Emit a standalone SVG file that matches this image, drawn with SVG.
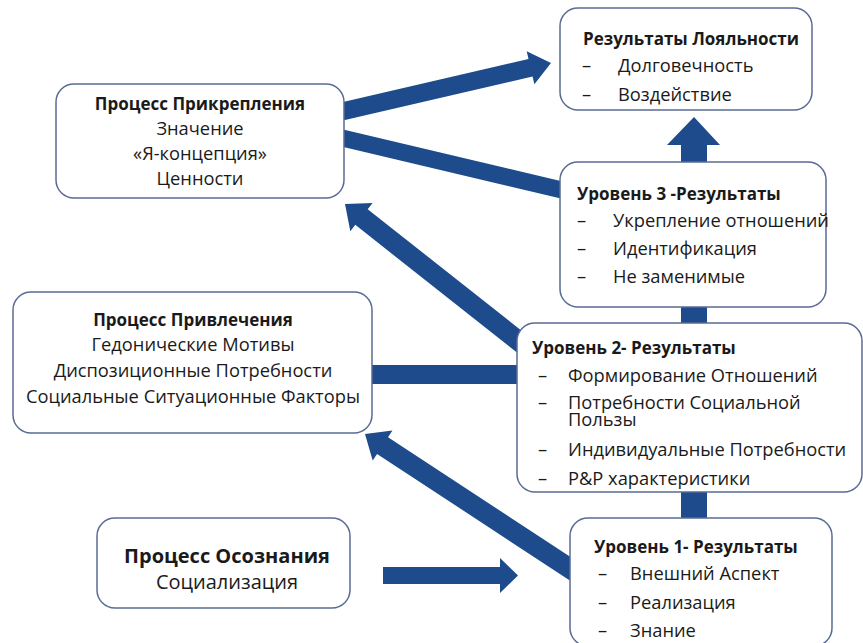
<svg xmlns="http://www.w3.org/2000/svg" width="863" height="643" viewBox="0 0 863 643">
<style>
.box{fill:#fff;stroke:#5a6b94;stroke-width:1.5}
.arr{fill:#1e4b8c}
.ln{stroke:#1e4b8c;fill:none}
text{font-family:"Open Sans","Noto Sans","Liberation Sans",sans-serif;font-size:18.3px;fill:#1a1a1a}
.b{font-weight:bold;font-size:17px}
.c{text-anchor:middle}
.big{font-size:20px}
</style>
<rect width="863" height="643" fill="#fff"/>
<g id="connectors">
<polygon class="arr" transform="translate(551,63) rotate(-13.07)" points="0,0 -21,-17 -21,-9 -218,-9 -218,9 -21,9 -21,17"/>
<line class="ln" x1="338" y1="137" x2="566" y2="191" stroke-width="17"/>
<polygon class="arr" transform="translate(345,204) rotate(218.3)" points="0,0 -21,-18 -21,-10 -240,-10 -240,10 -21,10 -21,18"/>
<polygon class="arr" transform="translate(365,434) rotate(213.3)" points="0,0 -21,-18 -21,-10 -285,-10 -285,10 -21,10 -21,18"/>
<polygon class="arr" points="383,567 500,567 500,558 518,575.5 500,593 500,584 383,584"/>
<rect class="arr" x="370" y="365" width="152" height="19"/>
<rect class="arr" x="681" y="488" width="26" height="34"/>
<rect class="arr" x="681" y="303" width="26" height="24"/>
<polygon class="arr" points="681,166 681,145 667,145 694,117 720,145 707,145 707,166"/>
</g>
<g id="loyalty">
<rect class="box" x="560" y="8" width="252" height="102" rx="18"/>
<text class="b" x="583" y="45">Результаты Лояльности</text>
<text x="582" y="72">–</text><text x="618" y="72">Долговечность</text>
<text x="582" y="101">–</text><text x="618" y="101">Воздействие</text>
</g>
<g id="attachment">
<rect class="box" x="56" y="84" width="288" height="114" rx="18"/>
<text class="b c" x="200" y="110">Процесс Прикрепления</text>
<text class="c" x="200" y="135">Значение</text>
<text class="c" x="200" y="160">«Я-концепция»</text>
<text class="c" x="200" y="185">Ценности</text>
</g>
<g id="level3">
<rect class="box" x="560" y="162" width="266" height="145" rx="18"/>
<text class="b" x="577" y="200">Уровень 3 -Результаты</text>
<text x="577" y="227">–</text><text x="613" y="227">Укрепление отношений</text>
<text x="577" y="255">–</text><text x="613" y="255">Идентификация</text>
<text x="577" y="283">–</text><text x="613" y="283">Не заменимые</text>
</g>
<g id="attraction">
<rect class="box" x="13" y="292" width="359" height="141" rx="18"/>
<text class="b c" x="193" y="326">Процесс Привлечения</text>
<text class="c" x="193" y="351">Гедонические Мотивы</text>
<text class="c" x="193" y="377">Диспозиционные Потребности</text>
<text class="c" x="193" y="403">Социальные Ситуационные Факторы</text>
</g>
<g id="level2">
<rect class="box" x="517" y="323" width="345" height="169" rx="18"/>
<text class="b" x="532" y="354">Уровень 2- Результаты</text>
<text x="538" y="382">–</text><text x="568" y="382">Формирование Отношений</text>
<text x="538" y="409">–</text><text x="568" y="409">Потребности Социальной</text>
<text x="568" y="426">Пользы</text>
<text x="538" y="456">–</text><text x="568" y="456">Индивидуальные Потребности</text>
<text x="538" y="485">–</text><text x="568" y="485">P&amp;P характеристики</text>
</g>
<g id="awareness">
<rect class="box" x="97" y="518" width="253" height="90" rx="18"/>
<text class="b c big" x="227" y="563">Процесс Осознания</text>
<text class="c big" x="227" y="589">Социализация</text>
</g>
<g id="level1">
<rect class="box" x="570" y="518" width="262" height="128" rx="18"/>
<text class="b" x="594" y="553">Уровень 1- Результаты</text>
<text x="598" y="580">–</text><text x="630" y="580">Внешний Аспект</text>
<text x="598" y="609">–</text><text x="630" y="609">Реализация</text>
<text x="598" y="637">–</text><text x="630" y="637">Знание</text>
</g>
</svg>
